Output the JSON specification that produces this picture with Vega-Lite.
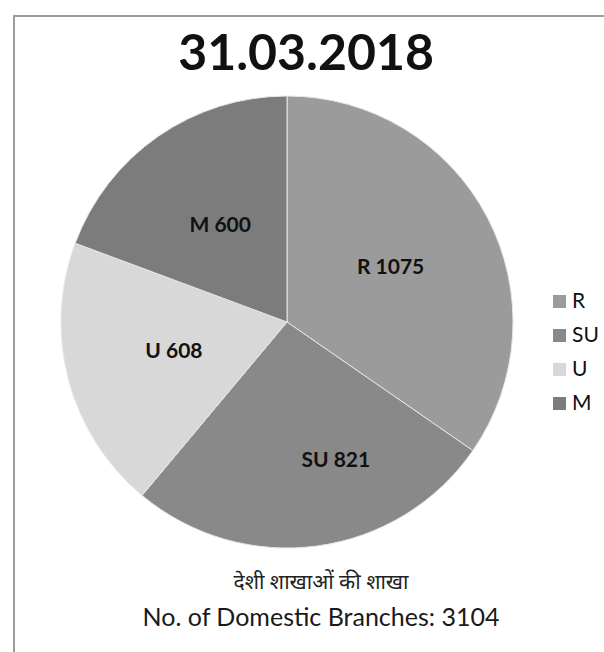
{
  "$schema": "https://vega.github.io/schema/vega-lite/v6.json",
  "padding": {"left": 13, "top": 15, "right": 0, "bottom": 0},
  "background": "white",
  "title": {
    "text": "31.03.2018",
    "orient": "top",
    "anchor": "middle",
    "offset": -65,
    "dx": -18,
    "font": "Lato",
    "fontSize": 50,
    "fontWeight": "bold",
    "color": "#111111"
  },
  "vconcat": [
    {
      "width": 620,
      "height": 660,
      "view": {"stroke": "#9c9c9c", "strokeWidth": 2, "fill": "white"},
      "title": {
        "text": "देशी शाखाओं की शाखा",
        "subtitle": "No. of Domestic Branches: 3104",
        "orient": "bottom",
        "anchor": "middle",
        "offset": -104,
        "dx": -3,
        "font": "Noto Sans",
        "fontSize": 21,
        "fontWeight": "normal",
        "color": "#222222",
        "subtitleFont": "Lato",
        "subtitleFontSize": 25,
        "subtitleColor": "#1a1a1a",
        "subtitlePadding": 13
      },
      "data": {
        "values": [
          {"category": "R", "seq": 1, "branches": 1075, "label": "R 1075"},
          {"category": "SU", "seq": 2, "branches": 821, "label": "SU 821"},
          {"category": "U", "seq": 3, "branches": 608, "label": "U 608"},
          {"category": "M", "seq": 4, "branches": 600, "label": "M 600"}
        ]
      },
      "encoding": {
        "theta": {"field": "branches", "type": "quantitative", "stack": true},
        "order": {"field": "seq", "type": "quantitative"},
        "color": {
          "field": "category",
          "type": "nominal",
          "scale": {
            "domain": ["R", "SU", "U", "M"],
            "range": ["#9b9b9b", "#898989", "#d8d8d8", "#7c7c7c"]
          },
          "legend": {
            "orient": "none",
            "legendX": 535,
            "legendY": 275,
            "title": null,
            "symbolType": "square",
            "symbolSize": 170,
            "symbolStrokeWidth": 0,
            "labelFont": "Lato",
            "labelFontSize": 21,
            "labelColor": "#111111",
            "labelOffset": 2,
            "rowPadding": 12,
            "padding": 0
          }
        }
      },
      "layer": [
        {
          "mark": {
            "type": "arc",
            "outerRadius": 226,
            "stroke": "#e6e6e6",
            "strokeWidth": 1,
            "xOffset": -37,
            "yOffset": -24
          }
        },
        {
          "mark": {
            "type": "text",
            "radius": 117,
            "xOffset": -37,
            "yOffset": -24,
            "font": "Lato",
            "fontSize": 21,
            "fontWeight": "bold",
            "color": "#111111"
          },
          "encoding": {
            "text": {"condition": {"test": "datum.category != 'SU'", "field": "label"}, "value": ""},
            "color": {"value": "#111111"}
          }
        },
        {
          "mark": {
            "type": "text",
            "radius": 140,
            "xOffset": -7,
            "yOffset": -24,
            "font": "Lato",
            "fontSize": 21,
            "fontWeight": "bold",
            "color": "#111111"
          },
          "encoding": {
            "text": {"condition": {"test": "datum.category == 'SU'", "field": "label"}, "value": ""},
            "color": {"value": "#111111"}
          }
        }
      ]
    }
  ]
}
